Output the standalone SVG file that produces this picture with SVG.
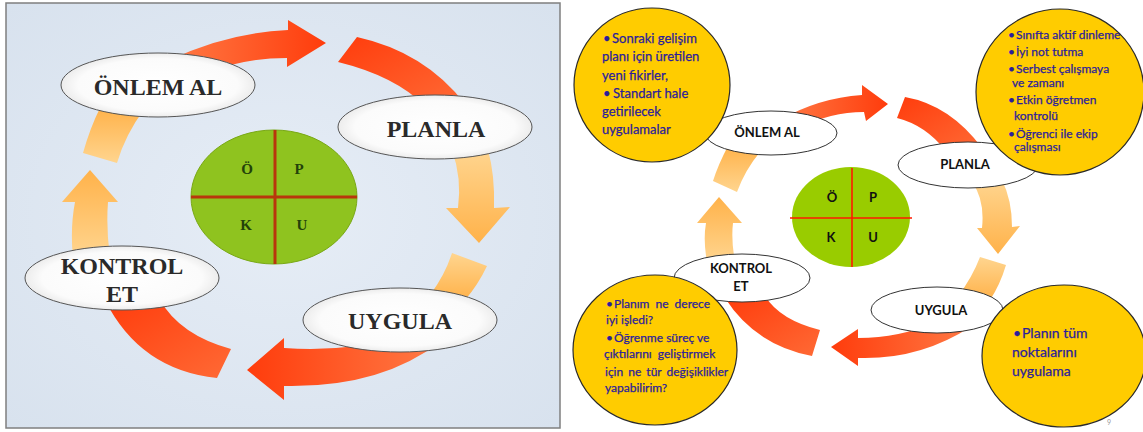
<svg xmlns="http://www.w3.org/2000/svg" width="1143" height="432" viewBox="0 0 1143 432">
<defs>
<radialGradient id="bg" cx="0.5" cy="0.5" r="0.7"><stop offset="0" stop-color="#e6edf6"/><stop offset="1" stop-color="#d8e2ee"/></radialGradient>
<radialGradient id="ell" cx="0.5" cy="0.5" r="0.55"><stop offset="0" stop-color="#ffffff"/><stop offset="0.75" stop-color="#fbfbfb"/><stop offset="1" stop-color="#e4e4e4"/></radialGradient>
<linearGradient id="redR" x1="0" y1="0" x2="1" y2="0"><stop offset="0" stop-color="#ff7a45"/><stop offset="1" stop-color="#ff3c0c"/></linearGradient>
<linearGradient id="redL" x1="1" y1="0" x2="0" y2="0"><stop offset="0" stop-color="#ff7a45"/><stop offset="1" stop-color="#ff3c0c"/></linearGradient>
<linearGradient id="redD" x1="0" y1="0" x2="1" y2="1"><stop offset="0" stop-color="#ff3c0c"/><stop offset="1" stop-color="#ff6a35"/></linearGradient>
<linearGradient id="orgD" x1="0" y1="0" x2="0" y2="1"><stop offset="0" stop-color="#ffd58f"/><stop offset="1" stop-color="#ffb24a"/></linearGradient>
<linearGradient id="orgU" x1="0" y1="1" x2="0" y2="0"><stop offset="0" stop-color="#ffd58f"/><stop offset="1" stop-color="#ffb24a"/></linearGradient>
</defs>
<style>
.ls{font-family:"Liberation Serif","Times New Roman",serif;font-weight:bold;font-size:24px;fill:#2a2a2a;text-anchor:middle}
.qs{font-family:"Liberation Serif","Times New Roman",serif;font-weight:bold;font-size:15px;fill:#23420a;text-anchor:middle}
.lb{font-family:Lato,"Liberation Sans",sans-serif;font-weight:bold;font-size:13px;fill:#111;text-anchor:middle}
.nt{font-family:Lato,"Liberation Sans",sans-serif;fill:#2b1d9c;stroke:#2b1d9c;stroke-width:0.25}
.el{fill:url(#ell);stroke:#555;stroke-width:1}
.er{fill:#fff;stroke:#333;stroke-width:1}
.yc{fill:#ffcc00;stroke:#2a2a2a;stroke-width:1.2}
.orgD{fill:url(#orgD)}
.orgU{fill:url(#orgU)}
</style>

<!-- LEFT PANEL -->
<g id="left-frame">
<rect x="6" y="3" width="554" height="425" fill="url(#bg)" stroke="#7f7f7f" stroke-width="1.5"/>
</g>
<g id="left-connectors">
<path d="M 170,60 Q 225,33 288,30 L 288,20 L 326,43 L 287,67 L 287,58 Q 245,58 210,72 Z" fill="url(#redR)"/>
<path d="M 357,37 Q 425,52 465,104 L 425,106 Q 395,76 338,62 Z" fill="url(#redD)"/>
<path d="M 452,150 Q 462,178 458,208 L 446,208 L 479,243 L 510,207 L 494,208 Q 495,175 488,150 Z" class="orgD"/>
<path d="M 452,253 L 487,266 Q 478,285 465,300 L 430,295 Q 445,275 452,253 Z" class="orgD"/>
<path d="M 284,348 Q 345,352 400,338 L 440,342 Q 380,388 284,386 L 284,400 L 247,370 L 284,338 Z" fill="url(#redL)"/>
<path d="M 105,300 Q 140,370 217,378 L 231,349 Q 180,335 160,300 Z" fill="url(#redD)"/>
<path d="M 73,258 Q 70,228 75,202 L 62,202 L 90,170 L 118,202 L 108,202 Q 106,228 110,258 Z" class="orgU"/>
<path d="M 100,108 L 145,108 Q 125,135 117,163 L 83,153 Q 90,128 100,108 Z" class="orgU"/>
</g>
<g id="left-center">
<ellipse cx="274" cy="197" rx="83" ry="67" fill="#8fc31f" stroke="#79a816" stroke-width="1"/>
<line x1="275" y1="130" x2="275" y2="264" stroke="#b8360c" stroke-width="3"/>
<line x1="191" y1="197" x2="357" y2="197" stroke="#b8360c" stroke-width="3"/>
<text class="qs" x="247" y="174">Ö</text>
<text class="qs" x="299" y="174">P</text>
<text class="qs" x="246" y="230">K</text>
<text class="qs" x="302" y="230">U</text>
</g>
<g id="left-onlem">
<ellipse class="el" cx="158" cy="85" rx="97" ry="32"/>
<text class="ls" x="158" y="95">ÖNLEM AL</text>
</g>
<g id="left-planla">
<ellipse class="el" cx="435" cy="127" rx="97" ry="32"/>
<text class="ls" x="436" y="137">PLANLA</text>
</g>
<g id="left-kontrol">
<ellipse class="el" cx="122" cy="278" rx="97" ry="32"/>
<text class="ls" x="122" y="274">KONTROL</text>
<text class="ls" x="122" y="302">ET</text>
</g>
<g id="left-uygula">
<ellipse class="el" cx="400" cy="320" rx="97" ry="32"/>
<text class="ls" x="400" y="329">UYGULA</text>
</g>

<!-- RIGHT PANEL -->
<g id="right-connectors">
<path d="M 780,120 Q 818,98 862,95 L 862,85 L 888,104 L 866,121 L 864,112 Q 830,112 800,128 Z" fill="url(#redR)"/>
<path d="M 905,97 Q 950,105 982,148 L 945,150 Q 925,125 897,118 Z" fill="url(#redD)"/>
<path d="M 972,182 Q 985,200 982,228 L 977,228 L 998,254 L 1020,226 L 1012,227 Q 1012,200 1002,180 Z" class="orgD"/>
<path d="M 980,257 L 1006,265 Q 1000,285 990,300 L 958,296 Q 972,278 980,257 Z" class="orgD"/>
<path d="M 858,338 Q 900,338 935,322 L 972,326 Q 920,360 858,358 L 858,366 L 831,347 L 858,329 Z" fill="url(#redL)"/>
<path d="M 725,298 Q 755,345 812,356 L 820,330 Q 780,320 765,296 Z" fill="url(#redD)"/>
<path d="M 707,262 Q 703,240 706,223 L 697,223 L 719,197 L 742,223 L 733,223 Q 731,240 735,262 Z" class="orgU"/>
<path d="M 728,146 L 760,152 Q 745,170 737,192 L 713,181 Q 718,165 728,146 Z" class="orgU"/>
</g>
<g id="right-center">
<ellipse cx="851" cy="217" rx="59" ry="50" fill="#99cc00"/>
<line x1="852" y1="168" x2="852" y2="267" stroke="#ff1a00" stroke-width="1.6"/>
<line x1="790" y1="218" x2="912" y2="218" stroke="#ff1a00" stroke-width="1.6"/>
<text class="lb" x="832" y="202">Ö</text>
<text class="lb" x="873" y="202">P</text>
<text class="lb" x="831" y="242">K</text>
<text class="lb" x="873" y="242">U</text>
</g>
<g id="right-onlem">
<ellipse class="er" cx="771" cy="133" rx="66" ry="22"/>
<text class="lb" x="767" y="137">ÖNLEM AL</text>
</g>
<g id="right-planla">
<ellipse class="er" cx="968" cy="165" rx="70" ry="23"/>
<text class="lb" x="965" y="169">PLANLA</text>
</g>
<g id="right-kontrol">
<ellipse class="er" cx="742" cy="278" rx="68" ry="24"/>
<text class="lb" x="741" y="273">KONTROL</text>
<text class="lb" x="741" y="291">ET</text>
</g>
<g id="right-uygula">
<ellipse class="er" cx="937" cy="310" rx="66" ry="23"/>
<text class="lb" x="941" y="315">UYGULA</text>
</g>

<g id="note-onlem">
<ellipse class="yc" cx="652" cy="85" rx="78" ry="77"/>
<text class="nt" font-size="13"><tspan x="603" y="43">•</tspan><tspan x="612" y="43">Sonraki gelişim</tspan><tspan x="602" y="61">planı için üretilen</tspan><tspan x="602" y="80">yeni fikirler,</tspan><tspan x="603" y="98">•</tspan><tspan x="613" y="98">Standart hale</tspan><tspan x="602" y="116">getirilecek</tspan><tspan x="602" y="134">uygulamalar</tspan></text>
</g>
<g id="note-planla">
<ellipse class="yc" cx="1060" cy="92" rx="84" ry="83"/>
<text class="nt" font-size="12"><tspan x="1008" y="39">•</tspan><tspan x="1016" y="39">Sınıfta aktif dinleme</tspan><tspan x="1008" y="56">•</tspan><tspan x="1016" y="56">İyi not tutma</tspan><tspan x="1008" y="73">•</tspan><tspan x="1016" y="73">Serbest çalışmaya</tspan><tspan x="1012" y="87">ve zamanı</tspan><tspan x="1008" y="104">•</tspan><tspan x="1016" y="104">Etkin öğretmen</tspan><tspan x="1014" y="120">kontrolü</tspan><tspan x="1008" y="138">•</tspan><tspan x="1016" y="138">Öğrenci ile ekip</tspan><tspan x="1014" y="151">çalışması</tspan></text>
</g>
<g id="note-kontrol">
<ellipse class="yc" cx="655" cy="350" rx="82" ry="75"/>
<text class="nt" font-size="12"><tspan x="606" y="308">•</tspan><tspan x="614" y="308" word-spacing="3">Planım ne derece</tspan><tspan x="606" y="324">iyi işledi?</tspan><tspan x="606" y="342">•</tspan><tspan x="614" y="342">Öğrenme süreç ve</tspan><tspan x="604" y="358" word-spacing="3">çıktılarını geliştirmek</tspan><tspan x="605" y="376" word-spacing="2">için ne tür değişiklikler</tspan><tspan x="605" y="392">yapabilirim?</tspan></text>
</g>
<g id="note-uygula">
<ellipse class="yc" cx="1064" cy="356" rx="82" ry="71"/>
<text class="nt" font-size="14"><tspan x="1013" y="338">•</tspan><tspan x="1022" y="338">Planın tüm</tspan><tspan x="1012" y="357">noktalarını</tspan><tspan x="1012" y="376">uygulama</tspan></text>
</g>
<text x="1107" y="425" font-family="Lato,'Liberation Sans',sans-serif" font-size="7" fill="#9a9a9a">9</text>
</svg>
